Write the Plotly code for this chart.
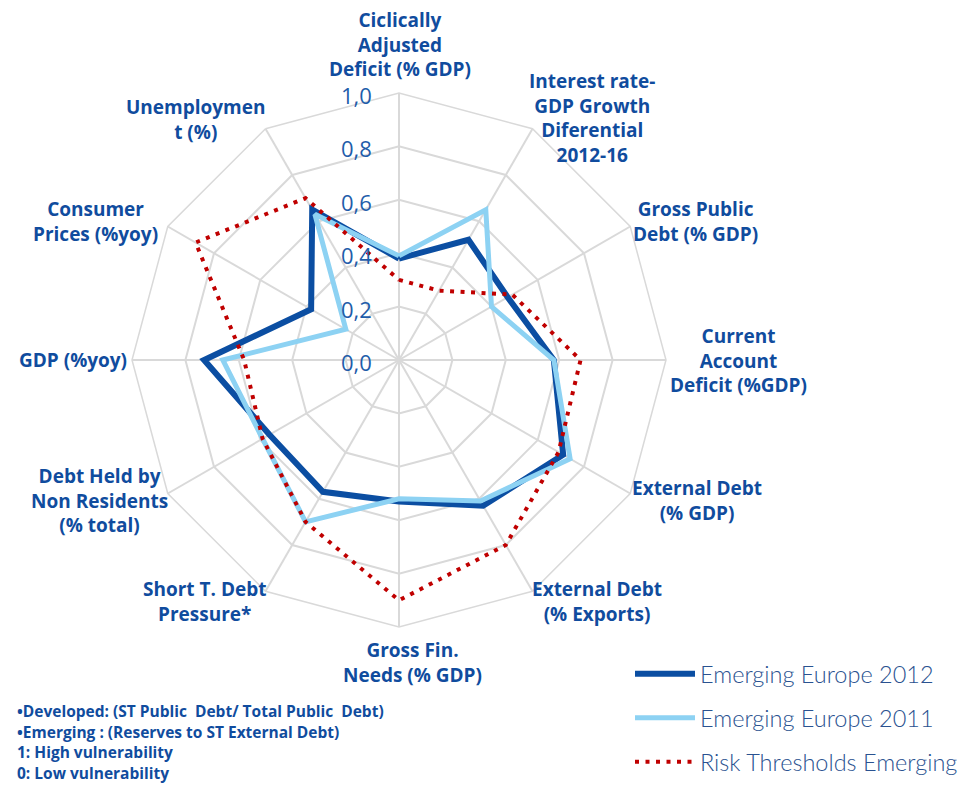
import plotly.graph_objects as go

categories = [
    "Ciclically Adjusted Deficit (% GDP)",
    "Interest rate-GDP Growth Diferential 2012-16",
    "Gross Public Debt (% GDP)",
    "Current Account Deficit (%GDP)",
    "External Debt (% GDP)",
    "External Debt (% Exports)",
    "Gross Fin. Needs (% GDP)",
    "Short T. Debt Pressure*",
    "Debt Held by Non Residents (% total)",
    "GDP (%yoy)",
    "Consumer Prices (%yoy)",
    "Unemployment (%)",
]
category_labels = [
    "Ciclically<br>Adjusted<br>Deficit (% GDP)",
    "Interest rate-<br>GDP Growth<br>Diferential<br>2012-16",
    "Gross Public<br>Debt (% GDP)",
    "Current<br>Account<br>Deficit (%GDP)",
    "External Debt<br>(% GDP)",
    "External Debt<br>(% Exports)",
    "Gross Fin.<br>Needs (% GDP)",
    "Short T. Debt<br>Pressure*",
    "Debt Held by<br>Non Residents<br>(% total)",
    "GDP (%yoy)",
    "Consumer<br>Prices (%yoy)",
    "Unemploymen<br>t (%)",
]
emerging_2012 = [0.38, 0.52, 0.47, 0.58, 0.71, 0.63, 0.53, 0.57, 0.56, 0.73, 0.38, 0.65]
emerging_2011 = [0.39, 0.65, 0.40, 0.58, 0.74, 0.61, 0.52, 0.70, 0.59, 0.66, 0.23, 0.63]
thresholds = [0.30, 0.30, 0.49, 0.68, 0.69, 0.80, 0.90, 0.70, 0.59, 0.58, 0.88, 0.70]
radial_ticks = [0.0, 0.2, 0.4, 0.6, 0.8, 1.0]
radial_ticktext = ["0,0", "0,2", "0,4", "0,6", "0,8", "1,0"]
footnote = [
    "•Developed: (ST Public  Debt/ Total Public  Debt)",
    "•Emerging : (Reserves to ST External Debt)",
    "1: High vulnerability",
    "0: Low vulnerability",
]

# page body has an 8px margin: screen px -> figure px
OFF = 8
W, H = 960, 778
# label block centres (screen pixels) - layout only
label_pos = [(400, 45), (592, 118), (695, 221), (738, 360), (697, 500), (597, 601),
             (412, 662), (204, 601), (99, 500), (73, 360), (95, 221), (196, 119)]

DARK = "#0B4EA2"
LIGHT = "#8DD2F3"
RED = "#C00000"
TXT = "#104C9E"


def px(x, y):
    return (x - OFF) / W, 1 - (y - OFF) / H


def closed(v):
    return list(v) + [v[0]]


theta = closed(categories)
fig = go.Figure()
fig.add_trace(go.Scatterpolar(r=closed(emerging_2012), theta=theta, mode="lines",
                              name="Emerging Europe 2012", line=dict(color=DARK, width=6),
                              legend="legend"))
fig.add_trace(go.Scatterpolar(r=closed(emerging_2011), theta=theta, mode="lines",
                              name="Emerging Europe 2011", line=dict(color=LIGHT, width=5),
                              legend="legend2"))
fig.add_trace(go.Scatterpolar(r=closed(thresholds), theta=theta, mode="lines",
                              name="Risk Thresholds Emerging",
                              line=dict(color=RED, width=4, dash="4px,6.5px"),
                              legend="legend3"))

cx, cy, R = 399, 360, 267
x0, y1 = px(cx - R, cy - R)
x1, y0 = px(cx + R, cy + R)
fig.update_layout(
    width=W, height=H,
    margin=dict(l=0, r=0, t=0, b=0),
    paper_bgcolor="white",
    font=dict(family="Open Sans", color=TXT),
    polar=dict(
        domain=dict(x=[x0, x1], y=[y0, y1]),
        bgcolor="white",
        gridshape="linear",
        angularaxis=dict(rotation=90, direction="clockwise", showticklabels=False,
                         ticks="", gridcolor="#D9D9D9", gridwidth=1.5,
                         showline=True, linecolor="#D9D9D9", linewidth=1.5,
                         categoryorder="array", categoryarray=categories),
        radialaxis=dict(range=[0, 1], tickvals=radial_ticks, showticklabels=False,
                        angle=90, showline=False, ticks="",
                        gridcolor="#D9D9D9", gridwidth=1.5),
    ),
    showlegend=True,
)

leg_common = dict(xanchor="left", yanchor="middle", bgcolor="rgba(0,0,0,0)",
                  itemwidth=60,
                  font=dict(size=23.5, color="#2A5290", family="Lato", weight=300))
lx, _ = px(630, 0)
fig.update_layout(
    legend=dict(x=lx, y=px(0, 674)[1], **leg_common),
    legend2=dict(x=lx, y=px(0, 718)[1], **leg_common),
    legend3=dict(x=lx, y=px(0, 762)[1], **leg_common),
)

for lab, (x, y) in zip(category_labels, label_pos):
    ax, ay = px(x, y)
    fig.add_annotation(x=ax, y=ay, xref="paper", yref="paper", text=f"<b>{lab}</b>",
                       showarrow=False, xanchor="center", yanchor="middle", align="center",
                       font=dict(size=19, color=TXT, family="Open Sans"))

for v, t in zip(radial_ticks, radial_ticktext):
    ax, ay = px(374, cy - v * R + 2)
    fig.add_annotation(x=ax, y=ay, xref="paper", yref="paper", text=t, showarrow=False,
                       xanchor="right", yanchor="middle",
                       font=dict(size=22, color="#1F5DAA", family="Open Sans"))

for i, line in enumerate(footnote):
    ax, ay = px(15, 711 + 20.5 * i)
    fig.add_annotation(x=ax, y=ay, xref="paper", yref="paper", text=f"<b>{line}</b>",
                       showarrow=False, xanchor="left", yanchor="middle", align="left",
                       font=dict(size=15.5, color=TXT, family="Open Sans"))

fig.write_html("out.html")
